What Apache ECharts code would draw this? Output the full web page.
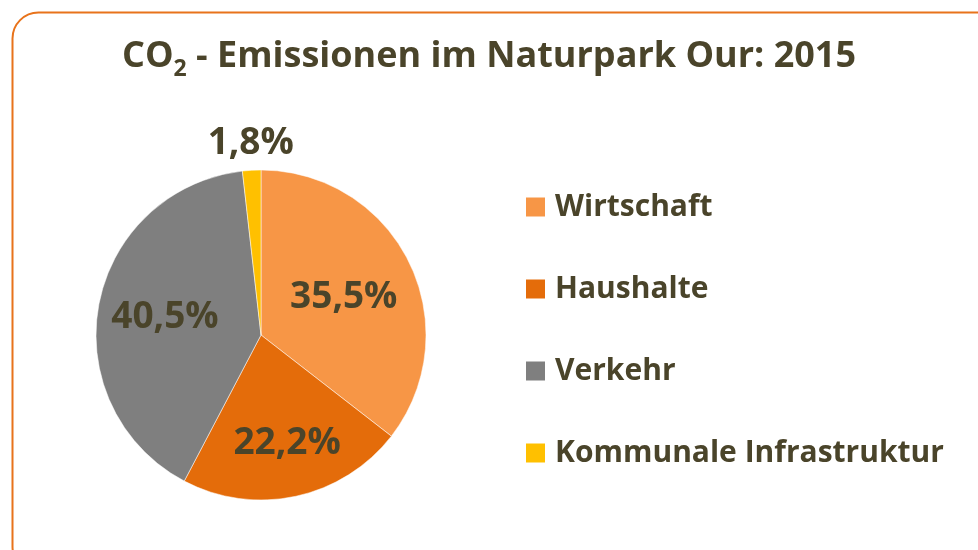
<!DOCTYPE html>
<html>
<head>
<meta charset="utf-8">
<script src="https://cdn.jsdelivr.net/npm/echarts@6/dist/echarts.min.js"></script>
<style>
  html, body { margin: 0; padding: 0; background: #fff; }
  #chart { width: 978px; height: 550px; }
</style>
</head>
<body>
<div id="chart"></div>
<script>
// Anteile der CO2-Emissionen 2015 (in %)
const categories = ["Wirtschaft", "Haushalte", "Verkehr", "Kommunale Infrastruktur"];
const shares = [35.5, 22.2, 40.5, 1.8];
const colors = ["#F79646", "#E46C0A", "#7F7F7F", "#FFC000"];
// Feinjustierung der Beschriftungen wie im Original
const labelOffsets = [[6, 0], [8, 25], [-12, -2], [78, -12]];

const textColor = "#4A442A";
const font = "Open Sans";
const chart = echarts.init(document.getElementById("chart"));

const option = {
  color: colors,
  graphic: [
    {
      type: "rect",
      left: 10,
      top: 10,
      shape: { width: 990, height: 560, r: 26 },
      style: { fill: "none", stroke: "#E8731B", lineWidth: 2 },
      silent: true,
    },
  ],
  title: {
    text: "{a|CO}{sub|2}{a| - Emissionen im Naturpark Our: 2015}",
    left: "center",
    top: 29,
    textStyle: {
      rich: {
        a: { fontFamily: font, fontWeight: "bold", fontSize: 36, color: textColor, lineHeight: 46 },
        sub: { fontFamily: font, fontWeight: "bold", fontSize: 23, color: textColor, lineHeight: 46, padding: [24, 0, 0, 0] },
      },
    },
  },
  legend: {
    orient: "vertical",
    left: 524,
    top: 192,
    padding: 0,
    itemWidth: 21,
    itemHeight: 21,
    itemGap: 52,
    icon: "rect",
    textStyle: { fontFamily: font, fontWeight: "bold", fontSize: 30, lineHeight: 30, color: textColor, padding: [0, 0, 0, 4] },
    data: categories,
  },
  series: [
    {
      type: "pie",
      center: [261, 335],
      radius: 165,
      startAngle: 90,
      clockwise: true,
      label: {
        show: true,
        position: "inside",
        fontFamily: font,
        fontWeight: "bold",
        fontSize: 37,
        color: textColor,
        formatter: (p) => p.value.toFixed(1).replace(".", ",") + "%",
      },
      labelLine: { show: false },
      itemStyle: { borderColor: "#fff", borderWidth: 0.5 },
      emphasis: { disabled: true },
      data: categories.map((name, i) => {
        const item = { name: name, value: shares[i], label: { offset: labelOffsets[i] } };
        if (i === 3) item.label.position = "outside";
        return item;
      }),
    },
  ],
};

chart.setOption(option);
</script>
</body>
</html>
